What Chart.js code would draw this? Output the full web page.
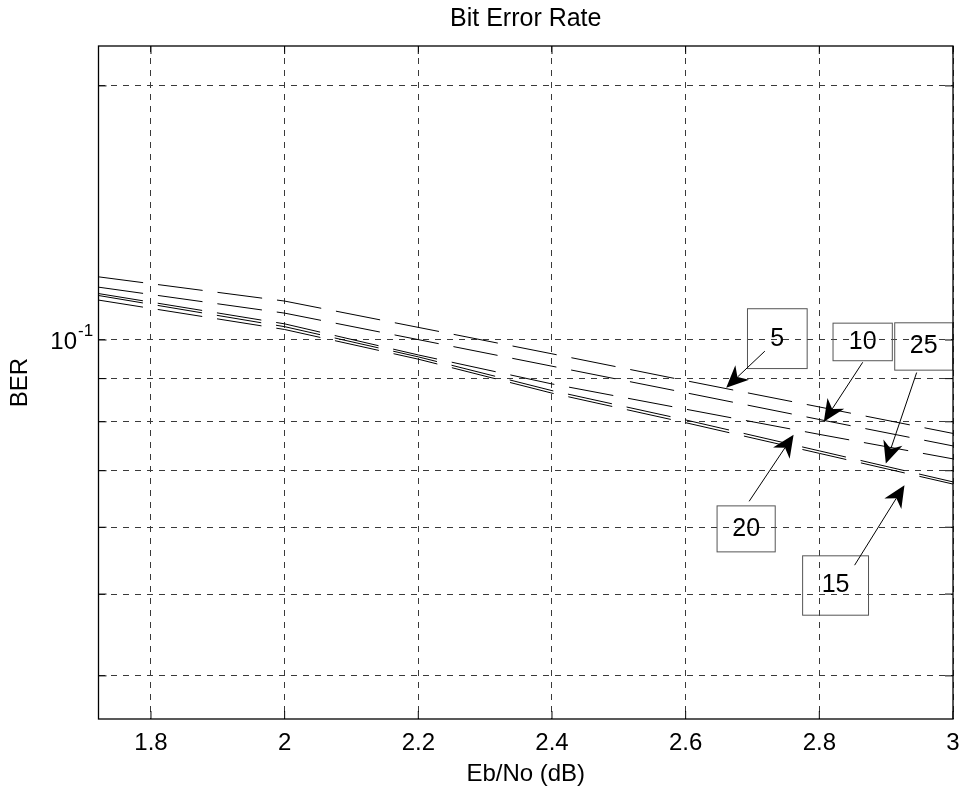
<!DOCTYPE html>
<html>
<head>
<meta charset="utf-8">
<title>Bit Error Rate</title>
<script src="https://cdn.jsdelivr.net/npm/chart.js@4.4.0/dist/chart.umd.min.js"></script>
<style>
    html, body { margin: 0; padding: 0; background: #fff; }
    canvas { display: block; }
</style>
</head>
<body>
<canvas id="berChart" width="960" height="790"></canvas>
<script>
        // --- Data ---
        const ebno  = [1.7215, 2.0, 2.2, 2.4, 2.6, 2.8, 3.0];
        const ber5  = [0.1188, 0.1112, 0.1035, 0.0963, 0.0895, 0.0833, 0.0775];
        const ber10 = [0.1155, 0.1076, 0.1001, 0.0931, 0.0866, 0.0805, 0.0749];
        const ber20 = [0.1135, 0.1045, 0.0960, 0.0887, 0.0828, 0.0773, 0.0723];
        const ber25 = [0.1129, 0.1037, 0.0955, 0.0871, 0.0804, 0.0739, 0.0679];
        const ber15 = [0.1115, 0.1029, 0.0949, 0.0865, 0.0798, 0.0734, 0.0675];
        const seriesNames = ['5', '10', '20', '25', '15'];

        const xTicks = [1.8, 2, 2.2, 2.4, 2.6, 2.8, 3];
        const yTicks = [0.04, 0.05, 0.06, 0.07, 0.08, 0.09, 0.1, 0.2];
        const xRange = [1.7215, 3];
        const yRange = [0.03556, 0.2230];

        // text arrows (data units): box = [x0, x1, yTop, yBottom], tail -> head
        const notes = [
            { text: '5',  box: [2.6925, 2.7818, 0.1089, 0.0925], tail: [2.7185, 0.0970], head: [2.6607, 0.0878] },
            { text: '10', box: [2.8205, 2.9092, 0.1047, 0.0945], tail: [2.8649, 0.0941], head: [2.8067, 0.0800] },
            { text: '25', box: [2.9128, 2.9996, 0.1048, 0.0921], tail: [2.9456, 0.0915], head: [2.8995, 0.0714] },
            { text: '20', box: [2.6470, 2.7340, 0.0636, 0.0561], tail: [2.6950, 0.0644], head: [2.7615, 0.0772] },
            { text: '15', box: [2.7750, 2.8736, 0.0555, 0.0472], tail: [2.8528, 0.0541], head: [2.9274, 0.0673] }
        ];

        const FONT = '"Liberation Sans", Arial, Helvetica, sans-serif';
        Chart.defaults.font.family = FONT;
        Chart.defaults.font.size = 24;
        Chart.defaults.color = '#000';

        const GRID = '#3a3a3a';

        // --- MATLAB style frame, inward ticks, 10^-1 label and text arrows ---
        const matlabFrame = {
            id: 'matlabFrame',
            afterDraw(chart) {
                const { ctx, chartArea: a, scales: { x, y } } = chart;
                ctx.save();

                // text arrows
                notes.forEach(n => {
                    const x0 = x.getPixelForValue(n.box[0]), x1 = x.getPixelForValue(n.box[1]);
                    const y0 = y.getPixelForValue(n.box[2]), y1 = y.getPixelForValue(n.box[3]);
                    ctx.setLineDash([]);
                    ctx.strokeStyle = '#555';
                    ctx.lineWidth = 1;
                    ctx.strokeRect(x0, y0, x1 - x0, y1 - y0);
                    ctx.fillStyle = '#000';
                    ctx.font = '25px ' + FONT;
                    ctx.textAlign = 'center';
                    ctx.textBaseline = 'middle';
                    ctx.fillText(n.text, (x0 + x1) / 2, (y0 + y1) / 2);

                    const tx = x.getPixelForValue(n.tail[0]), ty = y.getPixelForValue(n.tail[1]);
                    const hx = x.getPixelForValue(n.head[0]), hy = y.getPixelForValue(n.head[1]);
                    const len = Math.hypot(hx - tx, hy - ty);
                    const ux = (hx - tx) / len, uy = (hy - ty) / len;
                    const L = 22, W = 10;
                    const bx = hx - ux * L, by = hy - uy * L;
                    const nx = hx - ux * L * 0.7, ny = hy - uy * L * 0.7;
                    ctx.strokeStyle = '#000';
                    ctx.beginPath();
                    ctx.moveTo(tx, ty);
                    ctx.lineTo(nx, ny);
                    ctx.stroke();
                    ctx.beginPath();
                    ctx.moveTo(hx, hy);
                    ctx.lineTo(bx - uy * W, by + ux * W);
                    ctx.lineTo(nx, ny);
                    ctx.lineTo(bx + uy * W, by - ux * W);
                    ctx.closePath();
                    ctx.fill();
                });

                // axes box
                ctx.setLineDash([]);
                ctx.strokeStyle = '#000';
                ctx.lineWidth = 1.3;
                ctx.strokeRect(a.left, a.top, a.right - a.left, a.bottom - a.top);

                // inward ticks on all four sides
                const tl = 8;
                ctx.lineWidth = 1;
                ctx.beginPath();
                xTicks.forEach(v => {
                    const px = x.getPixelForValue(v);
                    ctx.moveTo(px, a.bottom); ctx.lineTo(px, a.bottom - tl);
                    ctx.moveTo(px, a.top); ctx.lineTo(px, a.top + tl);
                });
                yTicks.forEach(v => {
                    const py = y.getPixelForValue(v);
                    ctx.moveTo(a.left, py); ctx.lineTo(a.left + tl, py);
                    ctx.moveTo(a.right, py); ctx.lineTo(a.right - tl, py);
                });
                ctx.stroke();

                // decade label 10^-1
                const p = y.getPixelForValue(0.1);
                ctx.fillStyle = '#000';
                ctx.textBaseline = 'middle';
                ctx.textAlign = 'right';
                ctx.font = '24px ' + FONT;
                ctx.fillText('10', 77, p + 2);
                ctx.textAlign = 'left';
                ctx.font = '17px ' + FONT;
                ctx.fillText('-1', 78, p - 9);

                ctx.restore();
            }
        };

        const datasets = [ber5, ber10, ber20, ber25, ber15].map((arr, i) => ({
            label: seriesNames[i],
            data: arr.map((v, j) => ({ x: ebno[j], y: v })),
            borderColor: '#000',
            borderWidth: 1,
            borderDash: [45, 15],
            pointRadius: 0,
            tension: 0,
            fill: false
        }));

        new Chart(document.getElementById('berChart').getContext('2d'), {
            type: 'line',
            data: { datasets },
            plugins: [matlabFrame],
            options: {
                responsive: false,
                animation: false,
                devicePixelRatio: 1,
                layout: { padding: { left: 2, right: 7, top: 0, bottom: 0 } },
                plugins: {
                    legend: { display: false },
                    tooltip: { enabled: false },
                    title: {
                        display: true,
                        text: 'Bit Error Rate',
                        fullSize: false,
                        color: '#000',
                        font: { size: 25, weight: 'normal' },
                        padding: { top: 4, bottom: 12 }
                    }
                },
                scales: {
                    x: {
                        type: 'linear',
                        min: xRange[0],
                        max: xRange[1],
                        afterBuildTicks: s => { s.ticks = xTicks.map(v => ({ value: v })); },
                        afterFit: s => { s.height = 71; s.paddingLeft = 0; s.paddingRight = 0; },
                        ticks: { padding: 10, maxRotation: 0, autoSkip: false, callback: v => String(v) },
                        grid: { drawTicks: false, color: GRID, lineWidth: 1 },
                        border: { display: false, dash: [6, 6] },
                        title: { display: true, text: 'Eb/No (dB)', padding: { top: 0, bottom: 1 } }
                    },
                    y: {
                        type: 'logarithmic',
                        min: yRange[0],
                        max: yRange[1],
                        afterBuildTicks: s => { s.ticks = yTicks.map(v => ({ value: v })); },
                        afterFit: s => { s.width = 96.5; s.paddingTop = 0; s.paddingBottom = 0; },
                        ticks: { callback: () => '' },
                        grid: { drawTicks: false, color: GRID, lineWidth: 1 },
                        border: { display: false, dash: [6, 6] },
                        title: { display: true, text: 'BER', padding: { top: 4, bottom: 0 } }
                    }
                }
            }
        });
</script>
</body>
</html>
